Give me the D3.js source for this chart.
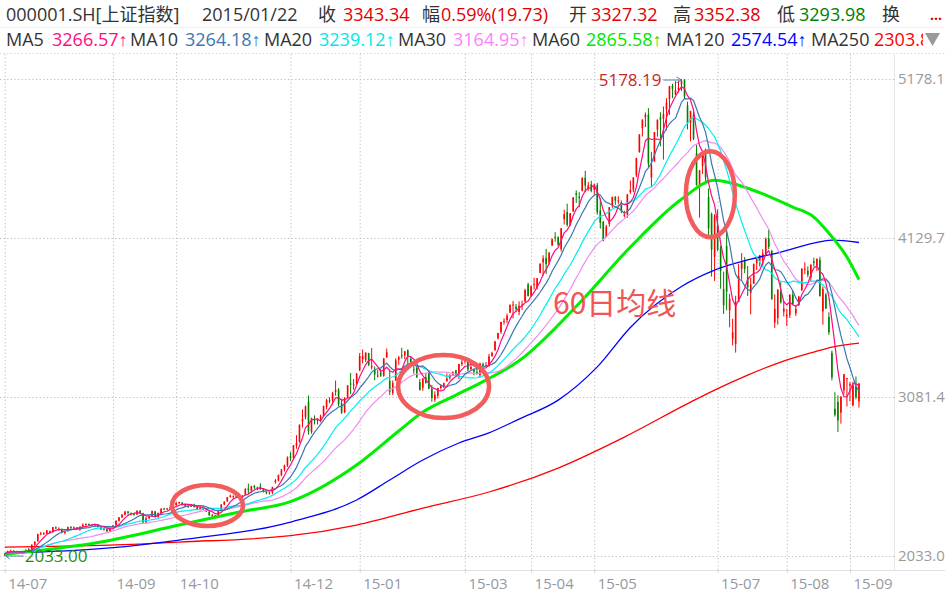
<!DOCTYPE html>
<html>
<head>
<meta charset="utf-8">
<script src="https://cdn.jsdelivr.net/npm/d3@7"></script>
<style>
  html, body { margin: 0; padding: 0; background: #fff; }
  svg { display: block; font-family: "Open Sans", "Liberation Sans", "Noto Sans CJK SC", sans-serif; }
</style>
</head>
<body>
<div id="chart"></div>
<script>
// Daily candles [open, high, low, close], 2014-07-11 .. 2015-09-08
const candles = [
  // 2014-07
  [2040,2052,2033,2046],[2046,2068,2043,2066],[2066,2075,2060,2067],[2067,2072,2058,2064],[2063,2068,2052,2055],
  [2051,2062,2046,2059],[2058,2063,2049,2054],[2054,2076,2052,2075],[2074,2085,2068,2078],[2078,2110,2076,2107],
  [2106,2131,2100,2126],[2130,2180,2128,2178],[2181,2192,2170,2183],[2180,2190,2172,2182],[2180,2203,2178,2202],
  // 2014-08
  [2198,2200,2180,2185],[2190,2225,2188,2223],[2222,2228,2210,2219],[2210,2222,2200,2213],[2212,2214,2183,2188],
  [2186,2198,2175,2194],[2197,2227,2195,2224],[2224,2230,2212,2222],[2220,2228,2212,2222],[2222,2224,2204,2206],
  [2205,2228,2200,2226],[2227,2248,2225,2240],[2238,2248,2232,2245],[2244,2248,2230,2238],[2235,2244,2228,2241],
  [2240,2246,2231,2241],[2240,2242,2220,2225],[2224,2227,2205,2208],[2208,2218,2200,2213],[2210,2212,2193,2195],
  [2196,2220,2195,2217],
  // 2014-09
  [2217,2238,2215,2235],[2235,2267,2232,2266],[2265,2290,2260,2288],[2288,2308,2283,2306],[2305,2330,2300,2326],
  [2326,2330,2305,2318],[2315,2320,2302,2312],[2312,2318,2298,2306],[2306,2335,2304,2331],[2332,2335,2310,2315],
  [2314,2318,2250,2255],[2254,2290,2248,2282],[2282,2300,2275,2295],[2296,2333,2292,2329],[2327,2330,2288,2290],
  [2290,2320,2285,2316],[2316,2347,2310,2345],[2346,2350,2335,2343],[2342,2350,2335,2347],[2348,2360,2342,2357],
  [2358,2368,2352,2364],
  // 2014-10
  [2368,2391,2365,2382],[2384,2391,2375,2389],[2385,2388,2366,2374],[2370,2377,2355,2366],[2365,2372,2350,2359],
  [2360,2376,2355,2373],[2372,2378,2353,2356],[2355,2362,2338,2341],[2341,2358,2335,2356],[2355,2360,2337,2340],
  [2340,2345,2323,2326],[2325,2330,2298,2302],[2300,2310,2293,2302],[2301,2304,2284,2290],[2290,2338,2288,2337],
  [2336,2374,2334,2373],[2372,2393,2368,2391],[2393,2423,2390,2420],
  // 2014-11
  [2425,2438,2418,2430],[2428,2432,2410,2430],[2432,2460,2418,2420],[2418,2428,2405,2425],[2425,2435,2410,2418],
  [2438,2480,2436,2474],[2478,2510,2440,2469],[2466,2496,2450,2494],[2494,2502,2475,2485],[2484,2490,2466,2478],
  [2492,2513,2468,2474],[2475,2480,2452,2456],[2455,2460,2440,2450],[2445,2458,2438,2452],[2451,2490,2440,2487],
  [2520,2540,2510,2532],[2530,2570,2525,2567],[2567,2605,2560,2604],[2602,2635,2590,2630],[2630,2690,2620,2682],
  // 2014-12
  [2690,2720,2660,2680],[2680,2765,2670,2763],[2760,2830,2740,2779],[2785,2900,2780,2899],[2920,3000,2880,2937],
  [2950,3025,2935,3020],[3050,3091,2834,2856],[2850,2945,2840,2940],[2930,2960,2900,2925],[2925,2942,2900,2938],
  [2940,2965,2915,2953],[2955,3025,2950,3021],[3015,3070,3000,3061],[3060,3080,3040,3057],[3060,3115,3030,3108],
  [3115,3190,3090,3128],[3130,3140,3020,3032],[3040,3070,2970,2977],[2980,3080,2975,3073],[3080,3160,3075,3157],
  [3170,3240,3100,3168],[3160,3200,3130,3165],[3170,3240,3160,3235],
  // 2015-01
  [3258,3370,3253,3351],[3330,3394,3303,3352],[3327,3375,3312,3374],[3371,3373,3285,3294],[3276,3404,3263,3285],
  [3259,3282,3192,3230],[3220,3260,3210,3223],[3242,3268,3214,3222],[3222,3337,3215,3336],[3343,3401,3340,3377],
  [3189,3263,3095,3116],[3107,3190,3095,3173],[3189,3337,3189,3323],[3327,3352,3294,3343],[3357,3406,3334,3351],
  [3356,3384,3330,3383],[3390,3395,3300,3352],[3334,3350,3300,3305],[3264,3290,3235,3263],[3273,3288,3209,3210],
  // 2015-02
  [3180,3200,3124,3128],[3143,3205,3123,3204],[3212,3238,3169,3174],[3245,3251,3133,3136],[3134,3160,3050,3076],
  [3064,3119,3049,3095],[3089,3142,3072,3141],[3141,3166,3130,3158],[3153,3176,3140,3173],[3186,3237,3182,3203],
  [3209,3230,3195,3228],[3230,3250,3226,3247],[3257,3260,3215,3229],[3224,3300,3200,3298],[3299,3325,3285,3310],
  // 2015-03
  [3332,3344,3302,3336],[3318,3318,3250,3263],[3265,3290,3260,3280],[3264,3270,3224,3248],[3248,3275,3230,3241],
  [3225,3309,3207,3302],[3298,3308,3278,3286],[3289,3311,3281,3291],[3290,3366,3280,3349],[3353,3380,3346,3372],
  [3391,3450,3385,3449],[3468,3504,3460,3503],[3511,3577,3497,3577],[3576,3600,3558,3582],[3589,3632,3567,3617],
  [3638,3693,3635,3688],[3687,3715,3600,3691],[3677,3694,3640,3661],[3641,3712,3621,3683],[3686,3717,3656,3691],
  [3710,3795,3710,3786],[3823,3835,3744,3748],
  // 2015-04
  [3748,3817,3743,3811],[3820,3867,3790,3826],[3803,3866,3789,3864],[3899,3961,3898,3961],[3970,4016,3881,3995],
  [3999,4058,3892,3958],[3964,4035,3955,4034],[4079,4128,4079,4121],[4137,4168,4105,4135],[4135,4141,4075,4085],
  [4056,4194,4041,4194],[4254,4317,4219,4287],[4301,4356,4205,4217],[4212,4293,4212,4293],[4304,4398,4304,4398],
  [4424,4444,4361,4414],[4403,4432,4333,4394],[4441,4529,4437,4527],[4527,4573,4432,4476],[4456,4499,4441,4476],
  [4483,4507,4431,4441],
  // 2015-05
  [4447,4488,4415,4480],[4479,4493,4283,4299],[4311,4391,4192,4229],[4237,4243,4108,4112],[4135,4216,4135,4205],
  [4222,4333,4205,4333],[4346,4402,4328,4401],[4401,4406,4348,4376],[4375,4405,4355,4378],[4363,4377,4293,4308],
  [4278,4310,4266,4283],[4284,4418,4263,4418],[4432,4509,4421,4446],[4448,4529,4432,4529],[4543,4658,4531,4658],
  [4697,4813,4692,4813],[4854,4911,4800,4911],[4926,4958,4861,4942],[4943,4986,4590,4620],[4528,4698,4464,4611],
  // 2015-06
  [4633,4829,4633,4829],[4844,4911,4798,4910],[4925,4959,4735,4910],[4916,4997,4647,4947],[4979,5052,4839,5023],
  [5045,5131,4941,5131],[5132,5147,5052,5113],[5077,5164,5073,5106],[5108,5167,5089,5121],[5143,5178.19,5100,5166],
  [5175,5176,5048,5062],[5004,5029,4846,4887],[4890,4969,4767,4967],[4943,4966,4775,4786],[4689,4744,4476,4478],
  [4471,4577,4264,4576],[4604,4691,4552,4690],[4712,4720,4483,4528],[4399,4456,4139,4193],[4289,4297,3875,4053],
  [4007,4287,3847,4277],
  // 2015-07
  [4214,4318,4043,4054],[4058,4080,3795,3913],[3793,3908,3629,3687],[4078,4184,3653,3776],[3653,3762,3541,3728],
  [3467,3597,3421,3507],[3432,3749,3374,3710],[3708,3960,3708,3878],[3926,4030,3855,3970],[3981,4004,3898,3925],
  [3874,3945,3747,3805],[3767,3867,3627,3823],[3828,3962,3828,3958],[3963,4000,3918,3992],[3976,4017,3942,4017],
  [3983,4056,3943,4027],[4017,4133,4011,4124],[4127,4184,4055,4070],[4046,4051,3724,3725],[3573,3758,3537,3663],
  [3602,3790,3559,3790],[3777,3839,3698,3705],[3644,3713,3612,3664],
  // 2015-08
  [3614,3663,3549,3623],[3621,3757,3602,3757],[3756,3782,3689,3695],[3633,3688,3616,3662],[3688,3746,3681,3744],
  [3786,3929,3780,3928],[3927,3970,3891,3928],[3914,3942,3871,3887],[3869,3955,3845,3955],[3976,4000,3940,3965],
  [3947,3994,3913,3993],[3986,4006,3743,3748],[3646,3811,3558,3794],[3755,3768,3663,3664],[3609,3640,3491,3508],
  [3373,3388,3191,3210],[3004,3113,2952,2965],[3049,3092,2850,2927],[2978,3085,2906,3084],[3125,3233,3098,3232],
  [3203,3206,3019,3206],
  // 2015-09
  [3157,3180,3053,3166],[3027,3183,3019,3160],[3149,3217,3066,3080],[3054,3174,3011,3170]
];

// long moving averages: [candle index, value]
const ma60Pts = [[0,2045],[32,2125],[58,2237],[78,2323],[95,2392],[117,2633],[131,2857],[139,2982],[150,3094],
  [160,3193],[171,3320],[191,3700],[208,4070],[225,4385],[236,4510],[244,4478],[253,4413],[262,4334],
  [269,4268],[274,4162],[280,4004],[284,3855]];
const ma120Pts = [[0,2050],[35,2086],[58,2138],[95,2257],[117,2402],[128,2534],[139,2666],[151,2778],[161,2845],
  [171,2936],[184,3061],[197,3280],[208,3540],[225,3810],[236,3918],[247,3985],[258,4037],[269,4096],
  [275,4116],[284,4100]];
const ma250Pts = [[0,2092],[35,2105],[58,2125],[95,2167],[117,2237],[139,2349],[161,2455],[184,2613],[206,2817],
  [228,3048],[236,3127],[247,3226],[258,3312],[269,3378],[275,3411],[284,3437]];

const tickLabels = ["14-07","14-09","14-10","14-12","15-01","15-03","15-04","15-05","15-07","15-08","15-09"];
const tickIndex  = [0, 36, 57, 95, 118, 153, 175, 196, 237, 260, 281];
const priceTicks = [5178.19, 4129.79, 3081.40, 2033.00];

const W = 945, H = 596;
const UP = "#ff0000", DOWN = "#008000";

const svg = d3.select("#chart").append("svg")
    .attr("width", W)
    .attr("height", H);

const x = d3.scaleLinear().domain([0, candles.length - 1]).range([4.7, 4.7 + (candles.length - 1) * 3.008]);
const y = d3.scaleLinear().domain([2033, 5178.19]).range([556, 79]);

// frame lines
svg.append("line").attr("x1", 0).attr("x2", W).attr("y1", 27.5).attr("y2", 27.5).attr("stroke", "#f0f0f0");
svg.append("line").attr("x1", 0).attr("x2", W).attr("y1", 53.5).attr("y2", 53.5)
    .attr("stroke", "#d0d0d0").attr("stroke-dasharray", "1.2,2.4");
svg.append("line").attr("x1", 894.5).attr("x2", 894.5).attr("y1", 54).attr("y2", 570).attr("stroke", "#e6e6e6");
svg.append("line").attr("x1", 0).attr("x2", W).attr("y1", 570.5).attr("y2", 570.5).attr("stroke", "#e0e0e0");

// grid: horizontal
svg.append("g")
    .attr("transform", "translate(894,0)")
    .call(d3.axisLeft(y).tickValues(priceTicks).tickSize(894).tickFormat(""))
    .call(g => g.select(".domain").remove())
    .call(g => g.selectAll("line").attr("stroke", "#bdbdbd").attr("stroke-dasharray", "1.2,2.4"));

// grid: vertical
svg.append("g")
    .attr("transform", "translate(0,570)")
    .call(d3.axisBottom(x).tickValues(tickIndex).tickSize(-516).tickFormat(""))
    .call(g => g.select(".domain").remove())
    .call(g => g.selectAll("line").attr("stroke", "#bdbdbd").attr("stroke-dasharray", "1.2,2.4"));

// right price labels
svg.append("g")
    .attr("transform", "translate(898,0)")
    .call(d3.axisRight(y).tickValues(priceTicks).tickSize(0).tickPadding(0).tickFormat(d3.format(".2f")))
    .call(g => g.select(".domain").remove())
    .call(g => g.selectAll("text").attr("fill", "#9a9a9a").attr("font-size", 15)
        .attr("font-family", "'Open Sans', sans-serif"));

// bottom date labels
svg.append("g")
    .attr("transform", "translate(0,570)")
    .call(d3.axisBottom(x).tickValues(tickIndex).tickSize(3).tickPadding(5)
        .tickFormat((d, i) => tickLabels[i]))
    .call(g => g.select(".domain").remove())
    .call(g => g.selectAll("line").attr("stroke", "#d8d8d8"))
    .call(g => g.selectAll("text").attr("text-anchor", "start").attr("x", 3)
        .attr("fill", "#9499a2").attr("font-size", 15)
        .attr("font-family", "'Open Sans', sans-serif"));

// candles
const gC = svg.append("g");
candles.forEach((d, i) => {
    const [o, h, l, c] = d;
    const col = c >= o ? UP : DOWN;
    const cx = x(i);
    gC.append("line")
        .attr("x1", cx).attr("x2", cx)
        .attr("y1", y(h)).attr("y2", y(l))
        .attr("stroke", col).attr("stroke-width", 1);
    const top = y(Math.max(o, c)), bot = y(Math.min(o, c));
    gC.append("rect")
        .attr("x", cx - 0.8).attr("width", 1.6)
        .attr("y", top).attr("height", Math.max(1, bot - top))
        .attr("fill", col);
});

// moving averages
const closes = candles.map(d => d[3]);
const movingAvg = n => closes.map((c, i) => d3.mean(closes.slice(Math.max(0, i - n + 1), i + 1)));

const lineIdx = d3.line().x((d, i) => x(i)).y(d => y(d));
const linePts = d3.line().x(d => x(d[0])).y(d => y(d[1])).curve(d3.curveMonotoneX);

const gMA = svg.append("g").attr("fill", "none").attr("stroke-linejoin", "round");
gMA.append("path").attr("d", linePts(ma250Pts)).attr("stroke", "#ff0000").attr("stroke-width", 1.3);
gMA.append("path").attr("d", linePts(ma120Pts)).attr("stroke", "#0000ff").attr("stroke-width", 1.3);
gMA.append("path").attr("d", linePts(ma60Pts)).attr("stroke", "#00ee00").attr("stroke-width", 3);
gMA.append("path").attr("d", lineIdx(movingAvg(30))).attr("stroke", "#f08cf0").attr("stroke-width", 1.2);
gMA.append("path").attr("d", lineIdx(movingAvg(20))).attr("stroke", "#00eeee").attr("stroke-width", 1.2);
gMA.append("path").attr("d", lineIdx(movingAvg(10))).attr("stroke", "#3c76b0").attr("stroke-width", 1.2);
gMA.append("path").attr("d", lineIdx(movingAvg(5))).attr("stroke", "#ff0a80").attr("stroke-width", 1.2);

// max / min markers
const hiIdx = d3.maxIndex(candles, d => d[1]);
const loIdx = d3.minIndex(candles, d => d[2]);
const hiV = candles[hiIdx][1], loV = candles[loIdx][2];

svg.append("line")
    .attr("x1", x(hiIdx) - 18).attr("x2", x(hiIdx)).attr("y1", y(hiV) + 1).attr("y2", y(hiV) + 1)
    .attr("stroke", "#4f7fb5").attr("stroke-width", 1);
svg.append("path")
    .attr("d", `M${x(hiIdx) - 5},${y(hiV) - 2}L${x(hiIdx)},${y(hiV) + 1}L${x(hiIdx) - 5},${y(hiV) + 4}`)
    .attr("fill", "none").attr("stroke", "#4f7fb5");
svg.append("text")
    .attr("x", x(hiIdx) - 20).attr("y", y(hiV) + 1).attr("dy", "0.35em")
    .attr("text-anchor", "end").attr("font-size", 17).attr("fill", "#c8282a")
    .text(d3.format(".2f")(hiV));

svg.append("line")
    .attr("x1", x(loIdx) + 1).attr("x2", x(loIdx) + 19).attr("y1", y(loV)).attr("y2", y(loV))
    .attr("stroke", "#4f7fb5").attr("stroke-width", 1);
svg.append("path")
    .attr("d", `M${x(loIdx) + 5},${y(loV) - 3}L${x(loIdx) + 1},${y(loV)}L${x(loIdx) + 5},${y(loV) + 3}`)
    .attr("fill", "none").attr("stroke", "#4f7fb5");
svg.append("text")
    .attr("x", x(loIdx) + 20).attr("y", y(loV)).attr("dy", "0.35em")
    .attr("font-size", 17).attr("fill", "#1e8c1e")
    .text(d3.format(".2f")(loV));

// hand-drawn annotations (index / price coordinates)
const marks = [
    { i: 67.4, v: 2366, rx: 35.5, ry: 20.5 },
    { i: 145.9, v: 3150, rx: 45.5, ry: 31.5 },
    { i: 234.6, v: 4419, rx: 24.5, ry: 43 }
];
svg.append("g").selectAll("ellipse").data(marks).join("ellipse")
    .attr("cx", d => x(d.i)).attr("cy", d => y(d.v))
    .attr("rx", d => d.rx).attr("ry", d => d.ry)
    .attr("fill", "none").attr("stroke", "#f25c5c").attr("stroke-width", 4.5);

svg.append("text")
    .attr("x", x(182.3)).attr("y", y(3628))
    .attr("font-family", "'Noto Sans CJK SC', sans-serif")
    .attr("font-size", 30).attr("fill", "#f25555")
    .text("60日均线");

// header
const header = [
    [6, 20.7, "000001.SH[上证指数]", "#333"],
    [202, 20.7, "2015/01/22", "#333"],
    [318, 20.7, "收", "#333"], [343, 20.7, "3343.34", "#e00000"],
    [422, 20.7, "幅", "#333"], [441, 20.7, "0.59%(19.73)", "#e00000"],
    [569, 20.7, "开", "#333"], [591, 20.7, "3327.32", "#e00000"],
    [673, 20.7, "高", "#333"], [694, 20.7, "3352.38", "#e00000"],
    [777, 20.7, "低", "#333"], [799, 20.7, "3293.98", "#008000"],
    [882, 20.7, "换", "#333"],
    [6, 45.7, "MA5", "#333"], [52, 45.7, "3266.57↑", "#ff0a80"],
    [130, 45.7, "MA10", "#333"], [185, 45.7, "3264.18↑", "#3c76b0"],
    [264, 45.7, "MA20", "#333"], [319, 45.7, "3239.12↑", "#00e8e8"],
    [398, 45.7, "MA30", "#333"], [453, 45.7, "3164.95↑", "#ff80ff"],
    [532, 45.7, "MA60", "#333"], [586, 45.7, "2865.58↑", "#00e600"],
    [666, 45.7, "MA120", "#333"], [731, 45.7, "2574.54↑", "#0000ff"],
    [811, 45.7, "MA250", "#333"], [874, 45.7, "2303.88↑", "#ff0000"]
];
svg.append("g").selectAll("text").data(header).join("text")
    .attr("x", d => d[0]).attr("y", d => d[1])
    .attr("font-size", 18).attr("fill", d => d[3])
    .text(d => d[2]);

svg.append("text").attr("x", 930).attr("y", 20).attr("font-size", 14).attr("font-weight", "bold")
    .attr("fill", "#e00000").text("...");

svg.append("rect").attr("x", 923).attr("y", 29).attr("width", 22).attr("height", 23).attr("fill", "#fff");
svg.append("path").attr("d", "M925,33L940,33L932.5,46Z").attr("fill", "#9a9a9a");
</script>
</body>
</html>
